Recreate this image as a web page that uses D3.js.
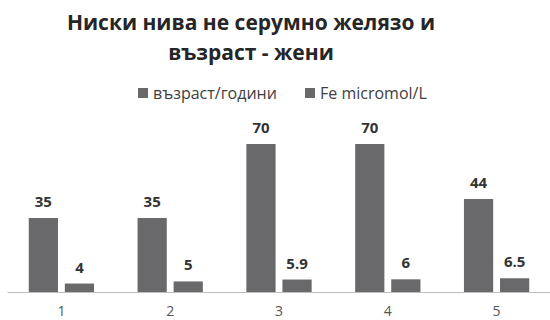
<!DOCTYPE html>
<html>
<head>
<meta charset="utf-8">
<script src="https://cdn.jsdelivr.net/npm/d3@7"></script>
<style>
  html, body { margin: 0; padding: 0; background: #fff; }
  svg { display: block; }
</style>
</head>
<body>
<svg id="chart" width="550" height="320"></svg>
<script>
// Data
const categories = ["1", "2", "3", "4", "5"];
const seriesNames = ["възраст/години", "Fe micromol/L"];
const ageValues = [35, 35, 70, 70, 44];
const feValues = [4, 5, 5.9, 6, 6.5];
const ageLabels = ["35", "35", "70", "70", "44"];
const feLabels = ["4", "5", "5.9", "6", "6.5"];
const titleLines = ["Ниски нива не серумно желязо и", "възраст - жени"];

const W = 550, H = 320;
const barColor = "#69696c";
const fontFamily = "'Open Sans', 'Noto Sans', sans-serif";

const svg = d3.select("#chart");

const plotTop = 144, plotBottom = 292;

const x0 = d3.scaleBand()
  .domain(categories)
  .range([7, 551])
  .paddingInner(0.4)
  .paddingOuter(0.2);

const x1 = d3.scaleBand()
  .domain([0, 1])
  .range([0, x0.bandwidth()])
  .paddingInner(0.19);

const y = d3.scaleLinear()
  .domain([0, 70])
  .range([plotBottom, plotTop]);

const rows = categories.map((c, i) => ({
  cat: c,
  vals: [
    { s: 0, v: ageValues[i], label: ageLabels[i] },
    { s: 1, v: feValues[i], label: feLabels[i] }
  ]
}));

// Title
svg.append("g")
  .selectAll("text")
  .data(titleLines)
  .join("text")
  .attr("x", 251)
  .attr("y", (d, i) => 30 + i * 30)
  .attr("text-anchor", "middle")
  .attr("font-family", fontFamily)
  .attr("font-weight", "bold")
  .attr("font-size", 21)
  .attr("fill", "#262626")
  .text(d => d);

// Legend
const legendItems = [
  { name: seriesNames[0], x: 138 },
  { name: seriesNames[1], x: 305 }
];
const lg = svg.append("g").selectAll("g")
  .data(legendItems)
  .join("g")
  .attr("transform", d => `translate(${d.x},93)`);
lg.append("rect")
  .attr("x", 0).attr("y", -5)
  .attr("width", 10).attr("height", 10)
  .attr("fill", barColor);
lg.append("text")
  .attr("x", 15).attr("y", 6)
  .attr("font-family", fontFamily)
  .attr("font-size", 16)
  .attr("fill", "#404040")
  .text(d => d.name);

// Bars
const groups = svg.append("g").selectAll("g")
  .data(rows)
  .join("g")
  .attr("transform", d => `translate(${x0(d.cat)},0)`);

groups.selectAll("rect")
  .data(d => d.vals)
  .join("rect")
  .attr("x", d => x1(d.s))
  .attr("y", d => y(d.v))
  .attr("width", x1.bandwidth())
  .attr("height", d => y(0) - y(d.v))
  .attr("fill", barColor);

// Value labels
groups.selectAll("text.val")
  .data(d => d.vals)
  .join("text")
  .attr("class", "val")
  .attr("x", d => x1(d.s) + x1.bandwidth() / 2)
  .attr("y", d => y(d.v) - 11)
  .attr("text-anchor", "middle")
  .attr("font-family", fontFamily)
  .attr("font-weight", "bold")
  .attr("font-size", 15)
  .attr("fill", "#333")
  .text(d => d.label);

// Category axis
const axis = svg.append("g")
  .attr("transform", `translate(0,${plotBottom})`)
  .call(d3.axisBottom(x0).tickSize(0).tickPadding(14));
axis.select(".domain").attr("stroke", "#bdbdbd").attr("stroke-width", 1.2);
axis.selectAll("text")
  .attr("font-family", fontFamily)
  .attr("font-size", 14)
  .attr("fill", "#555");
</script>
</body>
</html>
